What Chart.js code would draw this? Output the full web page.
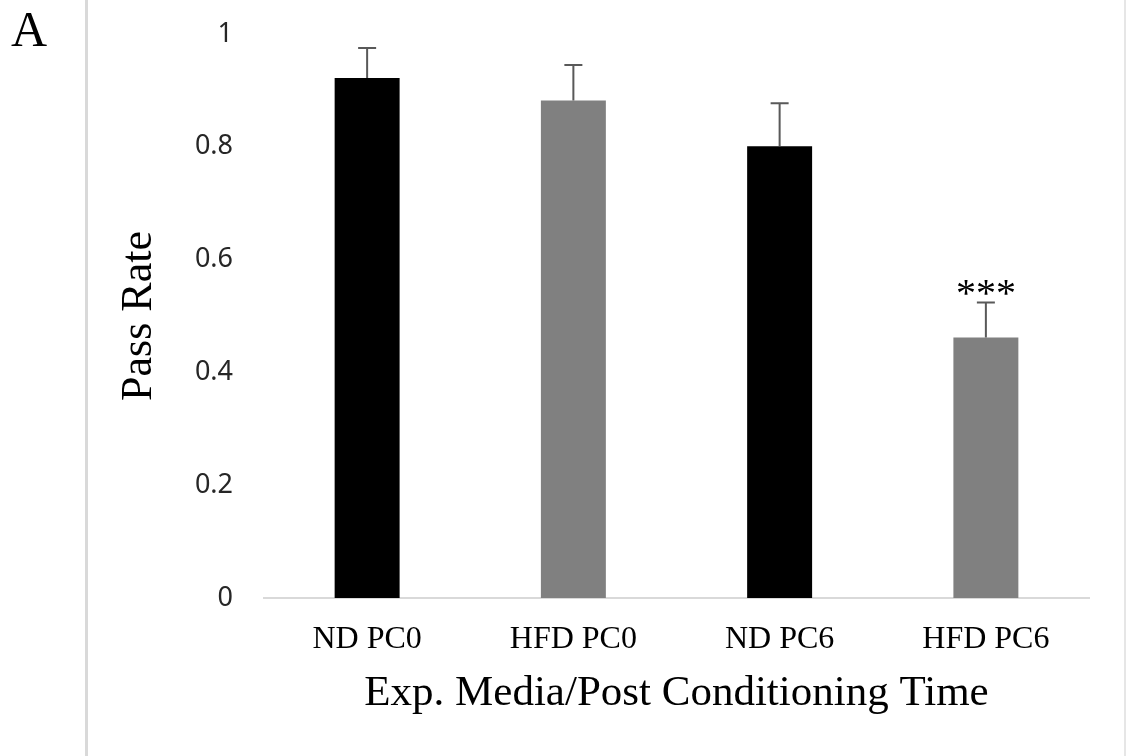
<!DOCTYPE html>
<html>
<head>
<meta charset="utf-8">
<script src="https://cdn.jsdelivr.net/npm/chart.js@4/dist/chart.umd.min.js"></script>
<style>
  html, body { margin: 0; padding: 0; background: #ffffff; }
  #wrap { position: relative; width: 1126px; height: 756px; overflow: hidden; }
  #chart { position: absolute; left: 0; top: 0; }
  .vline { position: absolute; top: 0; height: 756px; }
  #panel { position: absolute; left: 11px; top: 4px; font-family: "Liberation Serif", serif; font-size: 50px; line-height: 50px; color: #000; }
</style>
</head>
<body>
<div id="wrap">
  <div class="vline" style="left:85px;width:3px;background:#d9d9d9;"></div>
  <div class="vline" style="left:1124px;width:2px;background:#e6e6e6;"></div>
  <div id="panel">A</div>
  <canvas id="chart" width="1126" height="756"></canvas>
</div>
<script>
// ---- data ----
const categories = ['ND PC0', 'HFD PC0', 'ND PC6', 'HFD PC6'];
const passRate = [0.922, 0.882, 0.801, 0.462];
const errorUp = [0.053, 0.063, 0.076, 0.062];
const significance = ['', '', '', '***'];
const barColors = ['#000000', '#808080', '#000000', '#808080'];
const yTicks = [0, 0.2, 0.4, 0.6, 0.8, 1];
const yTickLabels = ['0', '0.2', '0.4', '0.6', '0.8', '1'];

const errorBarPlugin = {
  id: 'errorBars',
  afterDatasetsDraw(chart) {
    const ctx = chart.ctx;
    const meta = chart.getDatasetMeta(0);
    const yScale = chart.scales.y;
    ctx.save();
    meta.data.forEach((bar, i) => {
      const x = bar.x;
      const yTop = yScale.getPixelForValue(passRate[i] + errorUp[i]);
      const yBar = yScale.getPixelForValue(passRate[i]);
      ctx.strokeStyle = '#595959';
      ctx.lineWidth = 2;
      ctx.beginPath();
      ctx.moveTo(x, yBar);
      ctx.lineTo(x, yTop);
      ctx.moveTo(x - 9, yTop);
      ctx.lineTo(x + 9, yTop);
      ctx.stroke();
      if (significance[i]) {
        ctx.fillStyle = '#000000';
        ctx.font = '40px "Liberation Serif", serif';
        ctx.textAlign = 'center';
        ctx.textBaseline = 'alphabetic';
        ctx.fillText(significance[i], x, yTop + 4);
      }
    });
    ctx.restore();
  }
};

new Chart(document.getElementById('chart'), {
  type: 'bar',
  data: {
    labels: categories,
    datasets: [{
      data: passRate,
      backgroundColor: barColors,
      borderWidth: 0,
      barPercentage: 0.315,
      categoryPercentage: 1.0
    }]
  },
  options: {
    responsive: false,
    animation: false,
    devicePixelRatio: 1,
    layout: { padding: { left: 100, right: 37, top: 34, bottom: 0 } },
    plugins: { legend: { display: false }, tooltip: { enabled: false } },
    scales: {
      x: {
        grid: { display: false, drawTicks: false },
        border: { display: true, color: '#d9d9d9', width: 2 },
        ticks: {
          color: '#000000',
          padding: 22,
          font: { family: '"Liberation Serif", serif', size: 32 },
          maxRotation: 0
        },
        title: {
          display: true,
          text: 'Exp. Media/Post Conditioning Time',
          color: '#000000',
          font: { family: '"Liberation Serif", serif', size: 43 },
          padding: { top: 0, bottom: 36 }
        },
        afterFit(scale) { scale.height = 158; scale.paddingLeft = 0; scale.paddingRight = 0; }
      },
      y: {
        min: 0,
        max: 1,
        afterBuildTicks(scale) { scale.ticks = yTicks.map(v => ({ value: v })); },
        grid: { display: false, drawTicks: false },
        border: { display: false },
        ticks: {
          color: '#262626',
          padding: 31,
          font: { family: '"Noto Sans", sans-serif', size: 27 },
          callback(value, index) { return yTickLabels[index]; }
        },
        title: {
          display: true,
          text: 'Pass Rate',
          color: '#000000',
          font: { family: '"Liberation Serif", serif', size: 44 },
          padding: { top: 13, bottom: 0 }
        },
        afterFit(scale) { scale.width = 164; scale.paddingTop = 0; scale.paddingBottom = 0; }
      }
    }
  },
  plugins: [errorBarPlugin]
});
</script>
</body>
</html>
